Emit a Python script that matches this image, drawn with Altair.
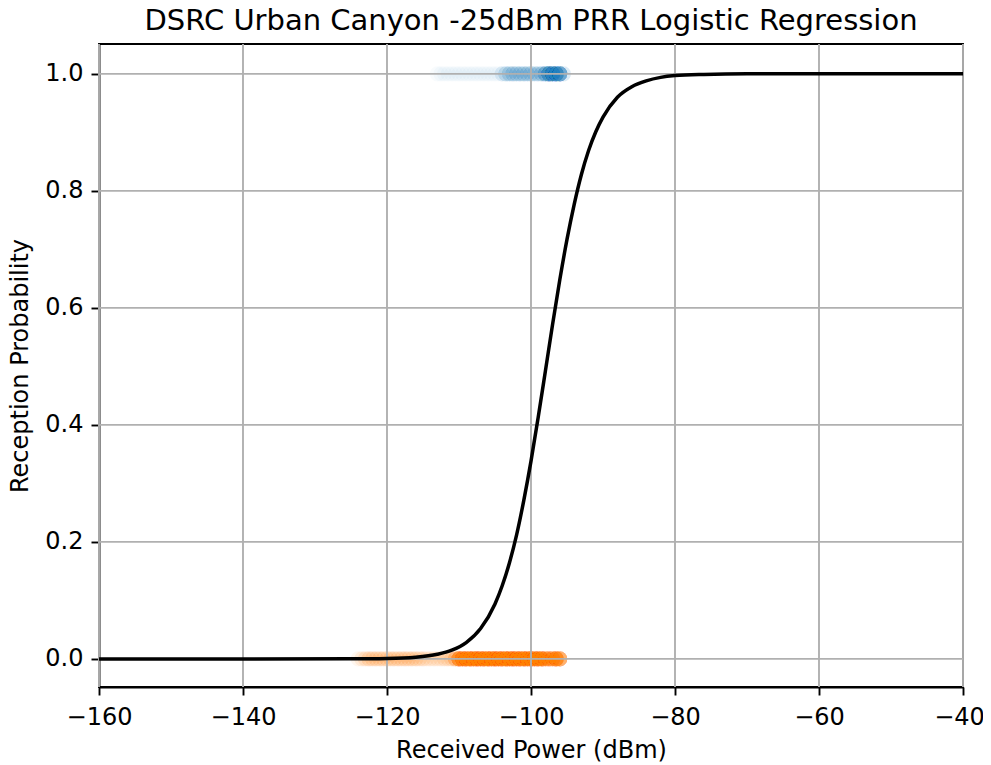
import altair as alt
import pandas as pd

# ---- data ----
# logistic curve (received power dBm -> probability)
curve_x = [-160, -140, -125, -120, -116, -113, -111, -109, -107, -105, -104, -103,
           -102, -101, -100, -99, -98, -97, -96, -95, -94, -93, -92, -91, -90,
           -88, -86, -84, -82, -80, -76, -70, -60, -50, -40]
curve_y = [0.0, 0.0, 0.0002, 0.0008, 0.003, 0.008, 0.015, 0.028, 0.052, 0.094, 0.125, 0.164,
           0.212, 0.271, 0.338, 0.413, 0.492, 0.572, 0.648, 0.717, 0.777, 0.828, 0.869, 0.901, 0.926,
           0.960, 0.978, 0.988, 0.994, 0.997, 0.999, 1.0, 1.0, 1.0, 1.0]

# received packets (y = 1): positions and number of overlapping samples
recv_x = [-113.0, -112.5, -112.0, -111.5, -111.0, -110.5, -110.0, -109.5, -109.0, -108.5,
          -108.0, -107.5, -107.0, -106.5, -106.0, -105.5, -105.0, -104.5, -104.0, -103.5,
          -103.0, -102.5, -102.0, -101.5, -101.0, -100.5, -100.0, -99.5, -99.0, -98.5,
          -98.0, -97.5, -97.0, -96.5, -96.0, -95.5]
recv_n = [1, 1, 1, 1, 1, 1, 1, 1, 1, 1,
          1, 1, 1, 1, 1, 1, 1, 1, 4, 6,
          7, 7, 7, 7, 7, 7, 7, 6, 6, 8,
          16, 25, 25, 25, 25, 5]

# lost packets (y = 0)
lost_x = [-124.0, -123.5, -123.0, -122.5, -122.0, -121.5, -121.0, -120.5, -120.0, -119.5,
          -119.0, -118.5, -118.0, -117.5, -117.0, -116.5, -116.0, -115.5, -115.0, -114.5,
          -114.0, -113.5, -113.0, -112.5, -112.0, -111.5, -111.0, -110.5, -110.0, -109.5,
          -109.0, -108.5, -108.0, -107.5, -107.0, -106.5, -106.0, -105.5, -105.0, -104.5,
          -104.0, -103.5, -103.0, -102.5, -102.0, -101.5, -101.0, -100.5, -100.0, -99.5,
          -99.0, -98.5, -98.0, -97.5, -97.0, -96.5, -96.0]
lost_n = [2, 3, 4, 5, 5, 5, 5, 5, 5, 5,
          5, 5, 5, 5, 5, 5, 5, 4, 4, 3,
          3, 3, 3, 3, 4, 4, 5, 12, 30, 30,
          30, 30, 30, 30, 30, 30, 30, 30, 30, 30,
          30, 30, 30, 30, 30, 30, 30, 30, 30, 30,
          30, 30, 20, 20, 20, 30, 25]

x_ticks = [-160, -140, -120, -100, -80, -60, -40]
y_ticks = [0.0, 0.2, 0.4, 0.6, 0.8, 1.0]

# ---- build tables ----
rows = []
for xv, n in zip(recv_x, recv_n):
    rows += [{"power": xv, "prob": 1.0, "cls": "received"}] * n
for xv, n in zip(lost_x, lost_n):
    rows += [{"power": xv, "prob": 0.0, "cls": "lost"}] * n
pts = pd.DataFrame(rows)
curve = pd.DataFrame({"power": curve_x, "prob": curve_y})
xt = pd.DataFrame({"t": x_ticks})
yt = pd.DataFrame({"t": y_ticks})

FONT = "DejaVu Sans"
xscale = alt.Scale(domain=[-160, -40], nice=False, zero=False)
yscale = alt.Scale(domain=[-0.048, 1.051], nice=False, zero=False)

scatter = alt.Chart(pts).mark_circle(size=230, opacity=0.03).encode(
    x=alt.X("power:Q", scale=xscale,
            axis=alt.Axis(title="Received Power (dBm)", values=x_ticks, format="d",
                          grid=False, labelPadding=10, titlePadding=9,
                          labelOffset={"condition": {"test": "datum.value == -40", "value": -4},
                                       "value": 0})),
    y=alt.Y("prob:Q", scale=yscale,
            axis=alt.Axis(title="Reception Probability", values=y_ticks, format=".1f",
                          grid=False, labelPadding=8, titlePadding=12)),
    color=alt.Color("cls:N", scale=alt.Scale(domain=["received", "lost"],
                                             range=["#1f77b4", "#ff7f0e"]), legend=None),
)

gridx = alt.Chart(xt).mark_rule(color="#b0b0b0", strokeWidth=1.9).encode(x=alt.X("t:Q", scale=xscale))
gridy = alt.Chart(yt).mark_rule(color="#b0b0b0", strokeWidth=1.9).encode(y=alt.Y("t:Q", scale=yscale))

line = alt.Chart(curve).mark_line(color="black", strokeWidth=3.5, interpolate="monotone").encode(
    x=alt.X("power:Q", scale=xscale),
    y=alt.Y("prob:Q", scale=yscale),
)

chart = alt.layer(scatter, gridx, gridy, line).properties(
    width=864, height=643,
    title=alt.TitleParams("DSRC Urban Canyon -25dBm PRR Logistic Regression",
                          fontSize=29, font=FONT, fontWeight="normal", color="black",
                          anchor="middle", offset=7),
    autosize=alt.AutoSizeParams(type="none"),
    padding={"left": 91, "top": 36, "right": 20, "bottom": 78},
).configure_view(
    stroke="black", strokeWidth=1.9
).configure_axis(
    labelFont=FONT, labelFontSize=24, labelColor="black",
    titleFont=FONT, titleFontSize=24, titleFontWeight="normal", titleColor="black",
    domainColor="black", domainWidth=1.9, tickColor="black", tickWidth=1.9, tickSize=8,
    labelFlush=False,
)

chart.save("out.html", embed_options={"renderer": "svg", "actions": False})
